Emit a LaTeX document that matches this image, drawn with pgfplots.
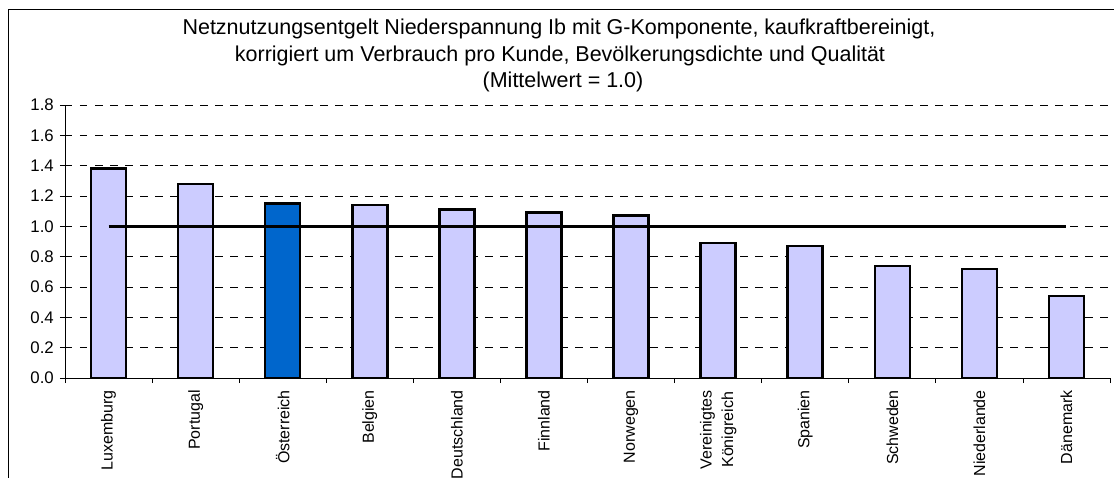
\documentclass[border=0pt]{standalone}
\usepackage{fontspec}
\setmainfont{Liberation Sans}
\usepackage{pgfplots}
\pgfplotsset{compat=1.18}
\definecolor{barlav}{HTML}{CCCCFF}
\definecolor{barblue}{HTML}{0066CC}
\begin{document}
\begin{tikzpicture}[x=1pt,y=1pt]
\useasboundingbox (0,0) rectangle (1114,477);
\draw[black, line width=1pt] (8,-10) -- (8,467) -- (1130,467);
\node[anchor=base, font=\fontsize{21.5}{26}\selectfont] at (559,442) {Netznutzungsentgelt Niederspannung Ib mit G-Komponente, kaufkraftbereinigt,};
\node[anchor=base, font=\fontsize{21.5}{26}\selectfont] at (560,415.5) {korrigiert um Verbrauch pro Kunde, Bevölkerungsdichte und Qualität};
\node[anchor=base, font=\fontsize{21.5}{26}\selectfont] at (563,389) {(Mittelwert = 1.0)};
\begin{axis}[
  at={(65pt,99pt)}, anchor=south west,
  scale only axis, width=1045pt, height=273pt,
  xmin=-0.5, xmax=11.5, ymin=0, ymax=1.8,
  axis x line*=bottom, axis y line*=left,
  axis line style={-, black, line width=0.8pt},
  tick align=outside, major tick length=5pt,
  tick style={black, line width=0.8pt},
  ytick={0,0.2,...,1.8},
  yticklabel style={/pgf/number format/fixed, /pgf/number format/fixed zerofill, /pgf/number format/precision=1, font=\fontsize{16.8}{20}\selectfont, inner sep=0pt, xshift=-6pt},
  /pgf/number format/assume math mode=true,
  ymajorgrids=true,
  y grid style={black, line width=0.8pt, dash pattern=on 7.5pt off 7.5pt},
  xtick={-0.5,0.5,...,11.5}, xticklabels={},
  extra x ticks={0,1,2,3,4,5,6,7,8,9,10,11},
  extra x tick labels={Luxemburg,Portugal,Österreich,Belgien,Deutschland,Finnland,Norwegen,{Vereinigtes\\Königreich},Spanien,Schweden,Niederlande,Dänemark},
  extra x tick style={major tick length=0pt, xticklabel style={rotate=90, anchor=east, align=center, inner sep=0pt, font=\fontsize{16}{21.5}\selectfont}},
  xticklabel shift=12pt,
  clip=false,
]
\addplot[ybar, bar width=35pt, bar shift=0pt, fill=barlav, draw=black, line width=2.5pt]
  coordinates {(0,1.38) (1,1.28) (3,1.14) (4,1.11) (5,1.09) (6,1.07) (7,0.89) (8,0.87) (9,0.74) (10,0.72) (11,0.54)};
\addplot[ybar, bar width=35pt, bar shift=0pt, fill=barblue, draw=black, line width=2.5pt]
  coordinates {(2,1.15)};
\addplot[black, line width=2.5pt] coordinates {(0,1.0) (11,1.0)};
\end{axis}
\end{tikzpicture}
\end{document}
